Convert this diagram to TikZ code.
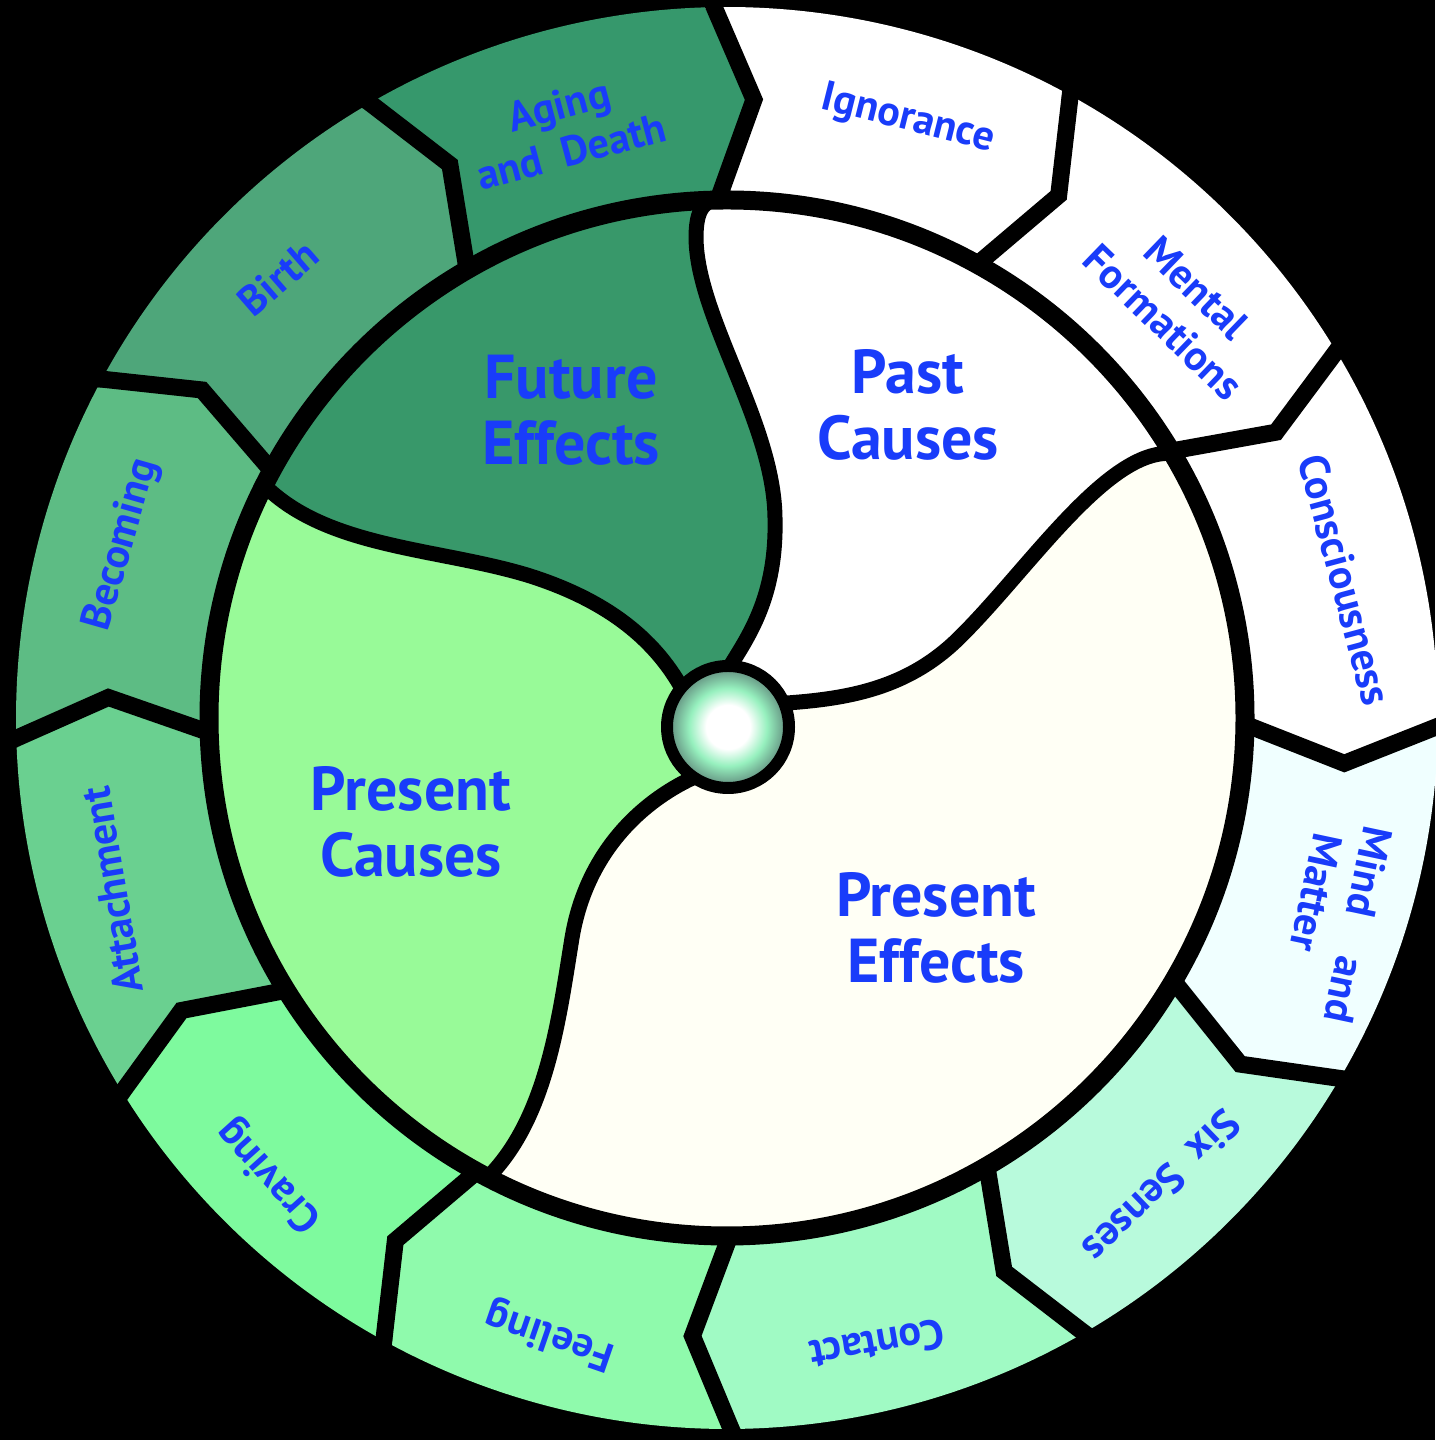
\documentclass[tikz,border=0pt]{standalone}
\usepackage{fontspec}
\setmainfont{PT Sans}
\definecolor{txt}{RGB}{25,60,250}
\definecolor{cAging}{RGB}{54,152,108}
\definecolor{cBirth}{RGB}{78,166,122}
\definecolor{cBecoming}{RGB}{93,188,132}
\definecolor{cAttach}{RGB}{106,208,144}
\definecolor{cCraving}{RGB}{126,250,158}
\definecolor{cFeeling}{RGB}{143,250,172}
\definecolor{cContact}{RGB}{160,250,196}
\definecolor{cSix}{RGB}{184,250,220}
\definecolor{cMind}{RGB}{240,255,255}
\definecolor{cFuture}{RGB}{56,152,106}
\definecolor{cPast}{RGB}{255,255,255}
\definecolor{cPresEff}{RGB}{255,255,245}
\definecolor{cPresCau}{RGB}{152,250,152}
\definecolor{ballmid}{RGB}{150,240,190}
\definecolor{ballout}{RGB}{105,155,135}
\pgfdeclareradialshading{ballsh}{\pgfpoint{0bp}{0bp}}{color(0bp)=(white); color(9bp)=(white); color(16bp)=(ballmid); color(23bp)=(ballout); color(50bp)=(ballout)}
\begin{document}
\begin{tikzpicture}[x=1pt,y=1pt,line join=miter,
  sep/.style={draw=black,line width=17pt,miter limit=10},
  curve/.style={draw=black,line width=15pt,line cap=butt},
  lab/.style={text=txt,font=\fontsize{42}{48}\selectfont\bfseries,align=center,inner sep=0pt},
  big/.style={text=txt,font=\fontsize{62}{66}\selectfont\bfseries,align=center,inner sep=0pt}]
\useasboundingbox (0,0) rectangle (1435,1440);
\fill[black] (0,0) rectangle (1435,1440);
\begin{scope}[shift={(727,722)}]
% dividing curves (ball -> inner circle)
\def\cA{(2,50) .. controls (20,80) and (50,120) .. (48,200) .. controls (47,295) and (-30,400) .. (-31,480) .. controls (-31,505) and (-25,515) .. (91.5:518)}
\def\cAr{(91.5:518) .. controls (-25,515) and (-31,505) .. (-31,480) .. controls (-30,400) and (47,295) .. (48,200) .. controls (50,120) and (20,80) .. (2,50)}
\def\cB{(45,14) .. controls (110,18) and (175,25) .. (230,78) .. controls (300,146) and (380,270) .. (30.7:518)}
\def\cBr{(30.7:518) .. controls (380,270) and (300,146) .. (230,78) .. controls (175,25) and (110,18) .. (45,14)}
\def\cC{(-30,-58) .. controls (-80,-80) and (-140,-130) .. (-155,-220) .. controls (-168,-300) and (-180,-400) .. (242.5:518)}
\def\cCr{(242.5:518) .. controls (-180,-400) and (-168,-300) .. (-155,-220) .. controls (-140,-130) and (-80,-80) .. (-30,-58)}
\def\cD{(-40,20) .. controls (-65,70) and (-110,115) .. (-200,143) .. controls (-290,170) and (-400,170) .. (153.3:518)}
\def\cDr{(153.3:518) .. controls (-400,170) and (-290,170) .. (-200,143) .. controls (-110,115) and (-65,70) .. (-40,20)}
% outer ring segments
\foreach \a/\b/\c in {91.8/61.9/white, 61.9/31.8/white, 31.8/0.1/white, 0.1/-29.7/cMind,
  -29.7/-59.1/cSix, -59.1/-88.9/cContact, -88.9/-118.1/cFeeling, -118.1/-147.5/cCraving,
  -147.5/-177.6/cAttach, 182.4/152.3/cBecoming, 152.3/120.9/cBirth, 120.9/91.8/cAging}{
  \fill[\c] (\a:711pt) arc[start angle=\a, end angle=\b, radius=711pt]
    -- ({\b-4.3}:619pt) -- (\b:505pt) arc[start angle=\b, end angle=\a, radius=505pt]
    -- ({\a-4.3}:619pt) -- cycle;
}
\foreach \a in {91.8,61.9,31.8,0.1,-29.7,-59.1,-88.9,-118.1,-147.5,-177.6,152.3,120.9}{
  \draw[sep] (\a:500pt) -- ({\a-4.3}:619pt) -- (\a:735pt);
}
% inner regions
\fill[cFuture] (1,-9) -- \cA arc[start angle=91.5, end angle=153.3, radius=518pt] -- \cDr -- cycle;
\fill[cPresCau] (1,-9) -- \cD arc[start angle=153.3, end angle=242.5, radius=518pt] -- \cCr -- cycle;
\fill[cPresEff] (1,-9) -- \cC arc[start angle=242.5, end angle=390.7, radius=518pt] -- \cBr -- cycle;
\fill[cPast] (1,-9) -- \cB arc[start angle=30.7, end angle=91.5, radius=518pt] -- \cAr -- cycle;
\draw[curve] \cA;
\draw[curve] \cB;
\draw[curve] \cC;
\draw[curve] \cD;
% inner circle
\draw[line width=19pt] (0,0) circle[radius=518pt];
% centre ball
\shade[shading=ballsh] (1,-9) circle[radius=61pt];
\draw[line width=12pt] (1,-9) circle[radius=61pt];
% outer labels
\node[lab,rotate=-14] (ign) at (181,598) {Ignorance};
\node[lab,rotate=-44] (men) at (453,413) {Mental\\Formations};
\node[lab,rotate=-75] (con) at (618,138) {Consciousness};
\node[lab,rotate=-102,align=left] (mind) at (608,-202) {Mind\quad and\\\hspace*{0.4em}Matter};
\node[lab,rotate=-136] (six) at (435,-469) {Six\enspace Senses};
\node[lab,rotate=-170] (cont) at (150,-627) {Contact};
\node[lab,rotate=161] (feel) at (-177,-617) {Feeling};
\node[lab,rotate=132] (crav) at (-457,-457) {Craving};
\node[lab,rotate=99.5] (att) at (-615,-172) {Attachment};
\node[lab,rotate=74] (bec) at (-605,173) {Becoming};
\node[lab,rotate=41] (bir) at (-449,440) {Birth};
\node[lab,rotate=15] (age) at (-162,590) {Aging\\and\enspace Death};
% inner labels
\node[big] (fut) at (-156,308) {Future\\Effects};
\node[big] (past) at (181,313) {Past\\Causes};
\node[big] (pc) at (-316,-104) {Present\\Causes};
\node[big] (pe) at (209,-210) {Present\\Effects};
\end{scope}
\end{tikzpicture}
\end{document}
